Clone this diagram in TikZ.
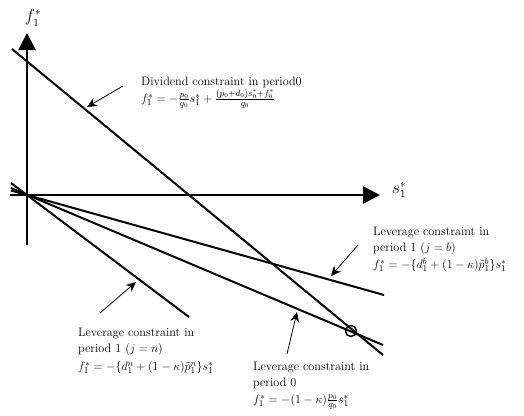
\documentclass[tikz,border=0pt]{standalone}
\usetikzlibrary{arrows.meta}
\begin{document}
\begin{tikzpicture}[x=1pt,y=-1pt,
  axis/.style={line width=2.6pt,-{Triangle[length=17pt,width=17pt]}},
  cline/.style={line width=2pt},
  pointer/.style={line width=0.8pt,-{Stealth[length=10pt,width=9pt,inset=3.5pt]}},
  lab/.style={inner sep=0pt,align=left,font=\fontsize{12.2}{16}\selectfont},
  axlab/.style={inner sep=0pt,font=\fontsize{16}{19}\selectfont}]
\useasboundingbox (0,0) rectangle (524,415);
% origin and axes
\coordinate (O) at (27,195);
\coordinate (ybot) at (27,245);
\coordinate (ytop) at (27,33);
\coordinate (xleft) at (10,195);
\coordinate (xright) at (380,195);
\draw[axis] (ybot) -- (ytop);
\draw[axis] (xleft) -- (xright);
\node[axlab] (flab) at (33,18) {$f_1^*$};
\node[axlab] (slab) at (399,190) {$s_1^*$};
% dividend constraint
\coordinate (d1) at (12,49);
\coordinate (d2) at (383,355);
\draw[cline] (d1) -- (d2);
% lines through origin
\coordinate (n1) at (11,183);
\coordinate (n2) at (189,317);
\draw[cline] (n1) -- (n2);
\coordinate (z1) at (11,188);
\coordinate (z2) at (383,345);
\draw[cline] (z1) -- (z2);
\coordinate (b1) at (11,190.5);
\coordinate (b2) at (384,295);
\draw[cline] (b1) -- (b2);
% circle at intersection
\node[draw,circle,line width=1.5pt,minimum size=11pt,inner sep=0pt] (X) at (351,331) {};
% labels
\node[lab,anchor=north west] (divlab) at (141,77)
  {Dividend constraint in period0\\[1pt]
   $f_1^*=-\frac{p_0}{q_0}s_1^*+\frac{(p_0+d_0)s_0^*+f_0^*}{q_0}$};
\node[lab,anchor=north west] (blab) at (373,227)
  {Leverage constraint in\\ period 1 $(j=b)$\\[1pt]
   $f_1^*=-\bigl\{d_1^b+(1-\kappa)\tilde{p}_1^b\bigr\}s_1^*$};
\node[lab,anchor=north west] (nlab) at (78,328)
  {Leverage constraint in\\ period 1 $(j=n)$\\[2pt]
   $f_1^*=-\bigl\{d_1^n+(1-\kappa)\tilde{p}_1^n\bigr\}s_1^*$};
\node[lab,anchor=north west] (zlab) at (253,362)
  {Leverage constraint in\\ period 0\\[1pt]
   $f_1^*=-(1-\kappa)\frac{p_0}{q_0}s_1^*$};
% pointer arrows
\coordinate (pd1) at (123,86);
\coordinate (pd2) at (87,107);
\draw[pointer] (pd1) -- (pd2);
\coordinate (pb1) at (358,245);
\coordinate (pb2) at (331,276);
\draw[pointer] (pb1) -- (pb2);
\coordinate (pn1) at (100,313);
\coordinate (pn2) at (136,282);
\draw[pointer] (pn1) -- (pn2);
\coordinate (pz1) at (287,354);
\coordinate (pz2) at (297,312);
\draw[pointer] (pz1) -- (pz2);
\end{tikzpicture}
\end{document}
